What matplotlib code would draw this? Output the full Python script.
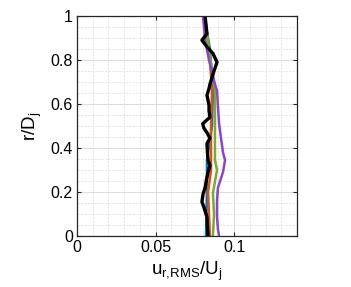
import matplotlib
matplotlib.use("Agg")
import matplotlib.pyplot as plt
from matplotlib.ticker import MultipleLocator

plt.rcParams['font.family'] = ['Liberation Sans', 'DejaVu Sans']
plt.rcParams['mathtext.fontset'] = 'custom'
plt.rcParams['mathtext.rm'] = 'Liberation Sans'

# radial position r/Dj and u_r,RMS/Uj for each profile
r_blue = [0, 0.1, 0.2, 0.345, 0.5, 0.66, 0.85, 1.0]
u_blue = [0.0821, 0.0824, 0.0827, 0.0827, 0.0859, 0.0865, 0.0846, 0.0808]

r_orange = [0, 0.1, 0.2, 0.3, 0.345, 0.5, 0.66, 0.8, 1.0]
u_orange = [0.0846, 0.0840, 0.0834, 0.0853, 0.0853, 0.0853, 0.0859, 0.0846, 0.0815]

r_green = [0, 0.1, 0.195, 0.3, 0.345, 0.5, 0.66, 0.8, 1.0]
u_green = [0.0865, 0.0872, 0.0865, 0.0891, 0.0878, 0.0878, 0.0878, 0.0850, 0.0810]

r_purple = [0, 0.03, 0.086, 0.16, 0.22, 0.29, 0.345, 0.38, 0.51, 0.66, 0.69, 0.8, 0.89, 1.0]
u_purple = [0.0904, 0.0897, 0.0891, 0.0891, 0.0897, 0.0929, 0.0942, 0.0929, 0.0904,
            0.0891, 0.0878, 0.0840, 0.0815, 0.0802]

r_black = [0, 0.04, 0.086, 0.13, 0.155, 0.19, 0.22, 0.26, 0.29, 0.32, 0.345, 0.38,
           0.42, 0.445, 0.47, 0.49, 0.51, 0.54, 0.57, 0.595, 0.64, 0.67, 0.69, 0.72,
           0.75, 0.79, 0.83, 0.86, 0.89, 0.92, 0.96, 1.0]
u_black = [0.0834, 0.0830, 0.0827, 0.0808, 0.0795, 0.0802, 0.0815, 0.0825, 0.0834,
           0.0846, 0.0834, 0.0830, 0.0827, 0.0846, 0.0827, 0.0808, 0.0800, 0.0846,
           0.0840, 0.0840, 0.0827, 0.0840, 0.0846, 0.0859, 0.0872, 0.0891, 0.0865,
           0.0827, 0.0795, 0.0827, 0.0821, 0.0815]

x_ticks = [0, 0.05, 0.1]
x_labels = ['0', '0.05', '0.1']
y_ticks = [0, 0.2, 0.4, 0.6, 0.8, 1]
y_labels = ['0', '0.2', '0.4', '0.6', '0.8', '1']

fig = plt.figure(figsize=(3.51, 2.87), dpi=100)
ax = fig.add_axes([77/351, 1 - 236/287, 220/351, 220/287])

ax.plot(u_blue, r_blue, color='#0072BD', lw=1.8)
ax.plot(u_orange, r_orange, color='#D95319', lw=1.8)
ax.plot(u_green, r_green, color='#77AC30', lw=1.8)
ax.plot(u_purple, r_purple, color='#8B45D0', lw=1.8)
ax.plot(u_black, r_black, color='black', lw=2.4)

ax.set_xlim(0, 0.14)
ax.set_ylim(0, 1)
ax.xaxis.set_minor_locator(MultipleLocator(0.01))
ax.yaxis.set_minor_locator(MultipleLocator(0.05))
ax.set_xticks(x_ticks)
ax.set_xticklabels(x_labels)
ax.set_yticks(y_ticks)
ax.set_yticklabels(y_labels)

ax.grid(which='major', color='#d6d6d6', lw=0.6)
ax.grid(which='minor', color='#dcdcdc', lw=0.5, ls=(0, (3, 2)))
ax.set_axisbelow(True)
ax.tick_params(which='both', direction='in', top=True, right=True,
               labelsize=11.5, colors='#262626', labelcolor='black')
ax.tick_params(which='major', length=3, pad=3)
ax.tick_params(which='minor', length=0)
for s in ax.spines.values():
    s.set_linewidth(0.9)
    s.set_color('#262626')

ax.set_xlabel(r'$\mathregular{u_{r{,}RMS}/U_j}$', fontsize=13.5, labelpad=3)
ax.set_ylabel(r'$\mathregular{r/D_j}$', fontsize=13.5, labelpad=5)

fig.savefig('out.png', dpi=100)
